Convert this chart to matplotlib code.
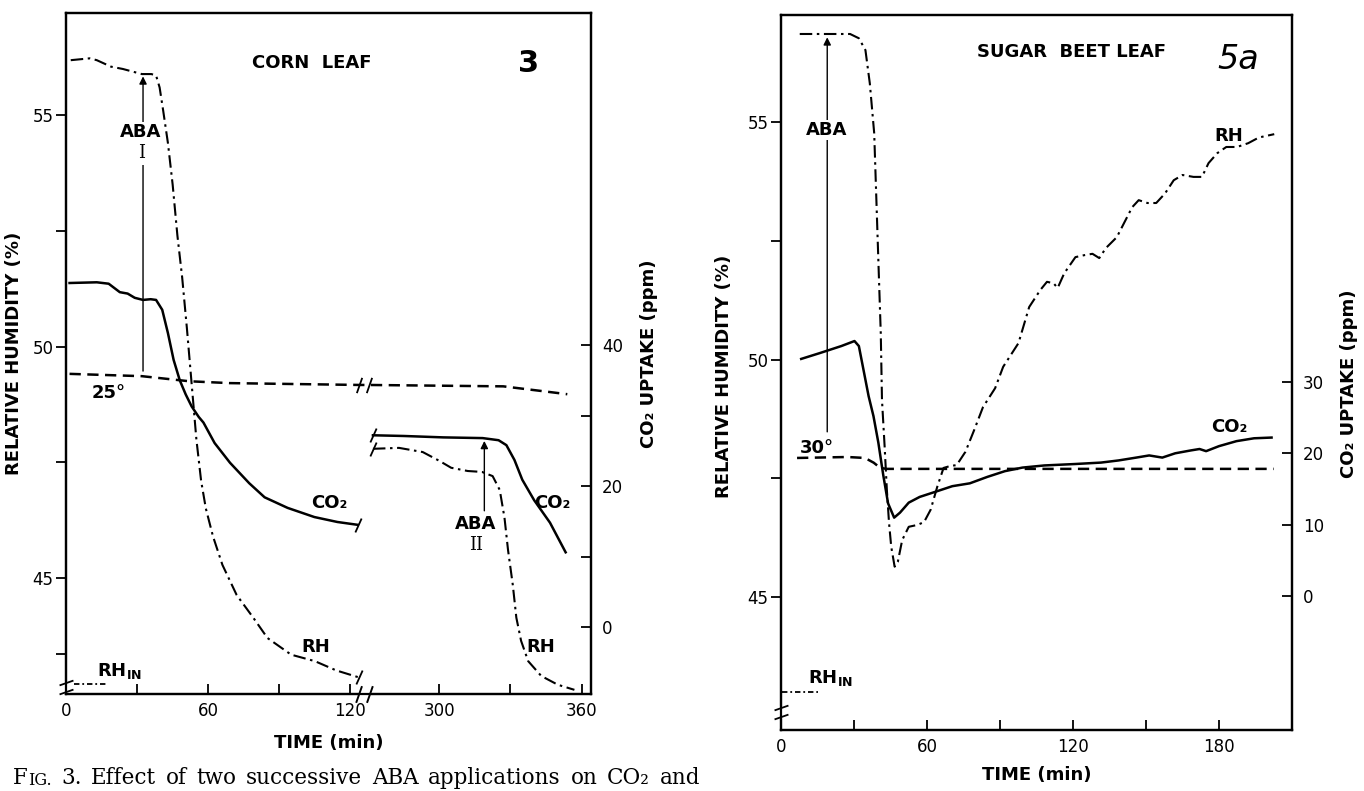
import numpy as np
import matplotlib
matplotlib.use('Agg')
import matplotlib.pyplot as plt
import matplotlib.transforms as mtransforms
from matplotlib.path import Path

# ---------------- data: Fig. 3, corn leaf (time in min, RH in %, CO2 in ppm) -------------
corn_rh1_t = [2, 10, 13, 19, 24, 32, 36, 38, 39.5, 41, 43, 45, 47, 49, 51, 53, 55, 57, 59,
              62, 66, 72, 79, 85, 95, 105, 114, 123.5]
corn_rh1 = [56.19, 56.23, 56.19, 56.05, 56.0, 55.89, 55.89, 55.86, 55.6, 55.1, 54.4, 53.5,
            52.4, 51.5, 50.4, 49.2, 48.0, 47.1, 46.5, 45.9, 45.28, 44.63, 44.14, 43.7, 43.34,
            43.2, 43.0, 42.85]
corn_rh2_t = [272, 283, 293, 300, 305, 312, 318, 322.5, 325.5, 327.5, 329, 331, 332.5, 334.5,
              337.5, 343, 350, 357]
corn_rh2 = [47.79, 47.81, 47.72, 47.53, 47.38, 47.31, 47.29, 47.2, 46.9, 46.3, 45.6, 44.85,
            44.14, 43.64, 43.2, 42.88, 42.69, 42.58]
corn_co2_1_t = [1.5, 13, 18, 22.7, 26, 29, 32.5, 35.7, 38, 40.6, 43, 45.4, 48, 50.5, 53, 56,
                58, 62.7, 69.2, 77.3, 83.8, 93.5, 104.8, 114.5, 123]
corn_co2_1 = [48.8, 48.9, 48.7, 47.5, 47.3, 46.7, 46.4, 46.5, 46.4, 45.0, 41.7, 37.9, 35.0,
              33.0, 31.3, 29.8, 29.0, 26.1, 23.3, 20.4, 18.4, 16.9, 15.6, 14.9, 14.5]
corn_co2_2_t = [272, 285, 301.7, 318.3, 325, 328.3, 331.7, 335, 340, 346.7, 353.3]
corn_co2_2 = [27.2, 27.1, 26.9, 26.8, 26.5, 25.8, 23.7, 20.9, 18.0, 14.8, 10.6]
corn_temp_t = [1.5, 32, 52, 69, 124, 270, 327, 343, 354]
corn_temp = [49.41, 49.36, 49.25, 49.21, 49.17, 49.17, 49.14, 49.04, 48.97]  # trace, RH units
corn_rhin_t = [3.5, 17.5]
corn_rhin = [42.71, 42.71]
corn_aba = [(32.5, 49.47, 55.84), (319, 46.45, 47.96)]  # time, arrow foot, arrow tip

# ---------------- data: Fig. 5a, sugar beet leaf ------------------------------------------
beet_rh_t = [7.7, 28.4, 32, 34.7, 36.5, 38.3, 39.2, 40.1, 41, 41.5, 42.6, 43.5, 44.4, 45.3,
             46.7, 48, 49.8, 52.5, 56.1, 58.8, 61.5, 64.2, 66.8, 69.5, 72.2, 75.8, 79.4, 83,
             88, 91.3, 97.6, 102, 106.6, 109.3, 112, 113.7, 116.4, 121, 124.5, 128, 130.8,
             133.5, 138, 141.6, 144.3, 147, 150.6, 154.2, 157.8, 161.4, 165, 169.5, 173,
             175.7, 179.3, 183, 187.4, 192, 196.4, 202.7]
beet_rh = [56.86, 56.86, 56.77, 56.52, 55.82, 54.77, 53.36, 51.95, 50.56, 49.15, 48.16, 47.26,
           46.56, 46.06, 45.64, 45.74, 46.2, 46.48, 46.52, 46.58, 46.84, 47.32, 47.72, 47.76,
           47.78, 48.06, 48.52, 49.0, 49.4, 49.85, 50.35, 51.11, 51.47, 51.64, 51.61, 51.51,
           51.82, 52.16, 52.2, 52.23, 52.14, 52.35, 52.58, 52.94, 53.21, 53.36, 53.3, 53.3,
           53.5, 53.78, 53.89, 53.85, 53.85, 54.14, 54.35, 54.48, 54.48, 54.56, 54.68, 54.75]
beet_co2_t = [8.3, 15.8, 24.8, 30.2, 32, 34, 36, 38, 40, 42, 44, 46.5, 48.9, 52.5, 57, 63.3,
              70.4, 77.6, 84.8, 92, 99.2, 108.2, 120.8, 131.5, 138.7, 146, 151.3, 156.7, 162,
              168.4, 172, 174.7, 180, 187.2, 194.4, 201.6]
beet_co2 = [33.2, 34.0, 35.0, 35.7, 35.0, 31.5, 28.0, 25.2, 21.5, 17.0, 13.0, 11.0, 11.7,
            13.1, 13.9, 14.6, 15.4, 15.8, 16.7, 17.5, 18.0, 18.3, 18.5, 18.7, 19.0, 19.4,
            19.7, 19.4, 20.0, 20.4, 20.6, 20.3, 21.0, 21.7, 22.1, 22.2]
beet_temp_t = [6.6, 27.3, 34.5, 38.1, 40.8, 43.5, 202.5]
beet_temp = [47.93, 47.95, 47.93, 47.83, 47.72, 47.70, 47.70]
beet_rhin_t = [0.5, 15]
beet_rhin = [43.0, 43.0]
beet_aba = (19, 48.48, 56.79)

caption_words = ['3.', 'Effect', 'of', 'two', 'successive', 'ABA', 'applications', 'on',
                 'CO₂', 'and']

# broken time axis of the corn panel: 124..270 min squeezed into 3.5 units
B1, B2, GAP = 124.0, 270.0, 3.5
BREAK_T = 190


def fwd(t):
    t = np.asarray(t, float)
    return np.where(t <= B1, t, np.where(t >= B2, t - (B2 - B1) + GAP,
                                         B1 + (t - B1) * GAP / (B2 - B1)))


def inv(u):
    u = np.asarray(u, float)
    return np.where(u <= B1, u, np.where(u >= B1 + GAP, u + (B2 - B1) - GAP,
                                         B1 + (u - B1) * (B2 - B1) / GAP))


plt.rcParams['font.family'] = 'DejaVu Sans'
RH_LS = dict(color='k', lw=1.5, dashes=(6, 2.2, 1.2, 2.2))
RHIN_LS = dict(color='k', lw=1.3, dashes=(3, 1.6, 1, 1.6))
T_LS = dict(color='k', lw=1.8, dashes=(4.5, 2.6))
CO2_LS = dict(color='k', lw=1.8)
LAB = dict(fontsize=13, fontweight='bold', ha='center', va='center')

SLASH = Path([(-0.45, -1), (0.45, 1)])
DSLASH = Path([(-1, -1), (-0.3, 1), (0.3, -1), (1, 1)],
              [Path.MOVETO, Path.LINETO, Path.MOVETO, Path.LINETO])
HDSLASH = Path([(-1, -1), (1, -0.3), (-1, 0.3), (1, 1)],
               [Path.MOVETO, Path.LINETO, Path.MOVETO, Path.LINETO])
HLINE = Path([(-1, 0), (1, 0)])
VLINE = Path([(0, -1), (0, 1)])

fig = plt.figure(figsize=(13.64, 7.91), dpi=100)
W, H = 1364, 791
axL = fig.add_axes([66 / W, 1 - 694 / H, 525 / W, 681 / H])
axR = fig.add_axes([781 / W, 1 - 730 / H, 511 / W, 715 / H])
axL.set_xscale('function', functions=(fwd, inv))
axL2 = axL.twinx()
axR2 = axR.twinx()


def style(ax, ax2):
    for a in (ax, ax2):
        for s in a.spines.values():
            s.set_linewidth(1.6)
    ax.tick_params(axis='y', which='both', direction='out', length=7, width=1.3,
                   labelsize=12, pad=2)
    ax.tick_params(axis='x', which='both', direction='in', length=7, width=1.3,
                   labelsize=12, pad=6)
    ax2.tick_params(axis='y', which='both', direction='in', length=7, width=1.3,
                    labelsize=12, pad=8)


# ---------------- corn leaf ----------------
axL.plot(corn_rh1_t, corn_rh1, **RH_LS)
axL.plot(corn_rh2_t, corn_rh2, **RH_LS)
axL.plot(corn_temp_t, corn_temp, **T_LS)
axL.plot(corn_rhin_t, corn_rhin, **RHIN_LS)
axL2.plot(corn_co2_1_t, corn_co2_1, **CO2_LS)
axL2.plot(corn_co2_2_t, corn_co2_2, **CO2_LS)

axL.set_xlim(0, 364)
axL.set_ylim(42.49, 57.21)
axL2.set_ylim(-9.5, 87.1)
axL.set_xticks([0, 60, 120, 300, 360])
axL.set_xticks([30, 90, 330], minor=True)
axL.set_yticks([45, 50, 55])
axL.set_yticks([43.35, 47.5, 52.5], minor=True)
axL2.set_yticks([0, 20, 40])
axL2.set_yticks([10, 30], minor=True)
style(axL, axL2)
axL.set_xlabel('TIME (min)', fontsize=13, fontweight='bold', labelpad=10)
axL.set_ylabel('RELATIVE HUMIDITY (%)', fontsize=13, fontweight='bold')
axL.yaxis.set_label_coords(-0.082, 0.5)
axL2.set_ylabel('CO₂ UPTAKE (ppm)', fontsize=13, fontweight='bold')
axL2.yaxis.set_label_coords(1.093, 0.5)

for t, y0, y1 in corn_aba:
    axL.annotate('', xy=(t, y1), xytext=(t, y0),
                 arrowprops=dict(arrowstyle='-|>', lw=1.0, color='k', mutation_scale=11,
                                 shrinkA=0, shrinkB=0))

tr = axL2.transAxes
wb = dict(facecolor='white', edgecolor='none', pad=0.5)
wb2 = dict(facecolor='white', edgecolor='none', pad=2.5)
axL2.text(0.469, 0.926, 'CORN  LEAF', transform=tr, **LAB)
axL2.text(0.882, 0.926, '3', transform=tr, fontsize=22, fontweight='bold',
          ha='center', va='center')
axL2.text(0.143, 0.825, 'ABA', transform=tr, bbox=wb, **LAB)
axL2.text(0.143, 0.795, 'I', transform=tr, family='DejaVu Serif', fontsize=13,
          ha='center', va='center', bbox=wb2)
axL2.text(0.781, 0.250, 'ABA', transform=tr, bbox=wb, **LAB)
axL2.text(0.781, 0.219, 'II', transform=tr, family='DejaVu Serif', fontsize=13,
          ha='center', va='center', bbox=wb2)
axL2.text(0.082, 0.442, '25°', transform=tr, **LAB)
axL2.text(0.501, 0.280, 'CO₂', transform=tr, **LAB)
axL2.text(0.926, 0.280, 'CO₂', transform=tr, **LAB)
axL2.text(0.475, 0.069, 'RH', transform=tr, **LAB)
axL2.text(0.904, 0.069, 'RH', transform=tr, **LAB)
axL2.text(0.059, 0.034, r'RH$_{\mathbf{IN}}$', transform=tr, fontsize=13,
          fontweight='bold', ha='left', va='center')

# axis-break marks
bt = mtransforms.blended_transform_factory(axL.transData, axL.transAxes)
axL.plot([BREAK_T], [0], transform=bt, marker=HLINE, ms=9, mew=5, color='white',
         clip_on=False, zorder=5)
axL.plot([BREAK_T], [0], transform=bt, marker=DSLASH, ms=12, mew=1.4, color='k',
         clip_on=False, zorder=6)
axL.plot([BREAK_T], [corn_temp[4]], marker=DSLASH, ms=11, mew=1.3, color='k')
axL.plot([corn_rh1_t[-1], corn_rh2_t[0]], [corn_rh1[-1], corn_rh2[0]], ls='none',
         marker=SLASH, ms=10, mew=1.3, color='k')
axL2.plot([corn_co2_1_t[-1], corn_co2_2_t[0]], [corn_co2_1[-1], corn_co2_2[0]],
          ls='none', marker=SLASH, ms=10, mew=1.3, color='k')
axL.plot([0], [0.011], transform=axL.transAxes, marker=VLINE, ms=8, mew=5,
         color='white', clip_on=False, zorder=5)
axL.plot([0], [0.011], transform=axL.transAxes, marker=HDSLASH, ms=10, mew=1.3,
         color='k', clip_on=False, zorder=6)

# ---------------- sugar beet leaf ----------------
axR.plot(beet_rh_t, beet_rh, **RH_LS)
axR.plot(beet_temp_t, beet_temp, **T_LS)
axR.plot(beet_rhin_t, beet_rhin, **RHIN_LS)
axR2.plot(beet_co2_t, beet_co2, **CO2_LS)

axR.set_xlim(0, 210)
axR.set_ylim(42.2, 57.26)
axR2.set_ylim(-18.7, 81.3)
axR.set_xticks([0, 60, 120, 180])
axR.set_xticks([30, 90, 150], minor=True)
axR.set_yticks([45, 50, 55])
axR.set_yticks([47.5, 52.5], minor=True)
axR2.set_yticks([0, 10, 20, 30])
style(axR, axR2)
axR.set_xlabel('TIME (min)', fontsize=13, fontweight='bold', labelpad=7)
axR.set_ylabel('RELATIVE HUMIDITY (%)', fontsize=13, fontweight='bold')
axR.yaxis.set_label_coords(-0.094, 0.494)
axR2.set_ylabel('CO₂ UPTAKE (ppm)', fontsize=13, fontweight='bold')
axR2.yaxis.set_label_coords(1.094, 0.484)

t, y0, y1 = beet_aba
axR.annotate('', xy=(t, y1), xytext=(t, y0),
             arrowprops=dict(arrowstyle='-|>', lw=1.0, color='k', mutation_scale=11,
                             shrinkA=0, shrinkB=0))
tr = axR2.transAxes
axR2.text(0.568, 0.948, 'SUGAR  BEET LEAF', transform=tr, **LAB)
axR2.text(0.894, 0.938, '5a', transform=tr, fontsize=24, fontstyle='italic',
          ha='center', va='center')
axR2.text(0.090, 0.839, 'ABA', transform=tr, bbox=wb, **LAB)
axR2.text(0.877, 0.831, 'RH', transform=tr, **LAB)
axR2.text(0.878, 0.424, 'CO₂', transform=tr, **LAB)
axR2.text(0.071, 0.395, '30°', transform=tr, **LAB)
axR2.text(0.053, 0.073, r'RH$_{\mathbf{IN}}$', transform=tr, fontsize=13,
          fontweight='bold', ha='left', va='center')
axR.plot([0], [0.025], transform=axR.transAxes, marker=VLINE, ms=8, mew=5,
         color='white', clip_on=False, zorder=5)
axR.plot([0], [0.025], transform=axR.transAxes, marker=HDSLASH, ms=10, mew=1.3,
         color='k', clip_on=False, zorder=6)

# ---------------- caption (justified line, small-caps "FIG.") ----------------
serif = ['DejaVu Serif']
CAP_X0, CAP_X1, CAP_BASE = 13, 700, 784
c1 = fig.text(CAP_X0 / W, 1 - CAP_BASE / H, 'F', family=serif, fontsize=15.5, va='baseline')
prev = axL.annotate('IG.', xy=(1, 0), xycoords=c1, family=serif, fontsize=11.5,
                    va='bottom', ha='left', annotation_clip=False)
parts = []
for w in caption_words:
    prev = axL.annotate(w, xy=(1, 0), xycoords=prev, xytext=(0, 0),
                        textcoords='offset pixels', family=serif, fontsize=15.5,
                        va='bottom', ha='left', annotation_clip=False)
    parts.append(prev)
fig.canvas.draw()
r = fig.canvas.get_renderer()
c1_x = c1.get_window_extent(r).x0
end_x = parts[-1].get_window_extent(r).x1
gap = max(((CAP_X1 - CAP_X0) - (end_x - c1_x)) / len(parts), 4)
for p in parts:
    p.xyann = (gap, 0)

fig.savefig('out.png', dpi=100)
